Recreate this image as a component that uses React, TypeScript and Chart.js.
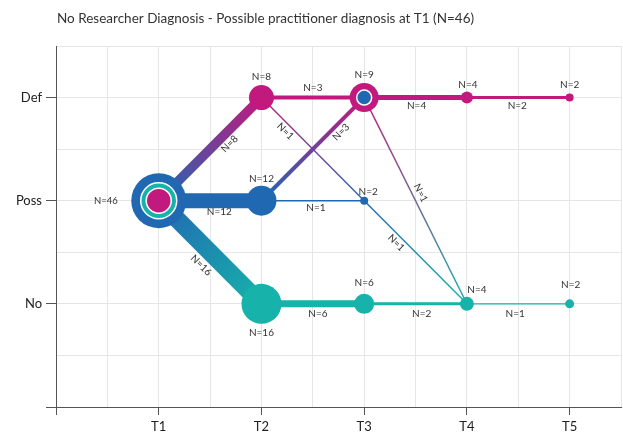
import React, { useEffect, useRef } from 'react';
import { Chart, registerables } from 'chart.js';

Chart.register(...registerables);

const TITLE = 'No Researcher Diagnosis - Possible practitioner diagnosis at T1 (N=46)';
const timeLabels = ['T1', 'T2', 'T3', 'T4', 'T5'];
const stateLabels = ['No', 'Poss', 'Def']; // y = 1, 2, 3

// Nodes: time (1..5), state (1=No, 2=Poss, 3=Def), count
const nodeTime = [1, 2, 2, 2, 3, 3, 3, 4, 4, 5, 5];
const nodeState = [2, 3, 2, 1, 3, 2, 1, 3, 1, 3, 1];
const nodeN = [46, 8, 12, 16, 9, 2, 6, 4, 4, 2, 2];

// Edges: from (time, state) to (time + 1, state), count
const edgeFromTime = [1, 1, 1, 2, 2, 2, 2, 2, 3, 3, 3, 3, 4, 4];
const edgeFromState = [2, 2, 2, 3, 3, 2, 2, 1, 3, 3, 2, 1, 3, 1];
const edgeToState = [3, 2, 1, 3, 2, 3, 2, 1, 3, 1, 1, 1, 3, 1];
const edgeN = [8, 12, 16, 3, 1, 3, 1, 6, 4, 1, 1, 2, 2, 1];

// ---------- styles (kept apart from the data) ----------
const MAGENTA = '#c2197e';
const BLUE = '#2168b2';
const TEAL = '#17b2aa';
const stateColor: Record<number, string> = { 1: TEAL, 2: BLUE, 3: MAGENTA };
const TEXT = '#333333';
const FONT = 'Lato, "Open Sans", sans-serif';

const widthForN: Record<number, number> = { 1: 1.4, 2: 3, 3: 4, 4: 5, 6: 7, 8: 9.5, 12: 15, 16: 17.5 };

// rings per node: [stateKey, radius]
const nodeRings: [number, number][][] = [
  [[2, 27.5], [1, 18], [3, 12.5]],
  [[3, 12.5]],
  [[2, 15]],
  [[1, 20]],
  [[3, 14.5], [2, 7.5]],
  [[2, 4]],
  [[1, 10]],
  [[3, 6]],
  [[1, 7]],
  [[3, 4]],
  [[1, 4.5]],
];
// node label offsets in px: [dx, dy, align]
const nodeLabelPos: [number, number, CanvasTextAlign][] = [
  [-41, 0, 'right'],
  [0, -21, 'center'],
  [0, -22, 'center'],
  [0, 29, 'center'],
  [0, -23, 'center'],
  [4, -9, 'center'],
  [0, -21, 'center'],
  [1, -13, 'center'],
  [10, -14, 'center'],
  [0, -13, 'center'],
  [1, -19, 'center'],
];
// edge label placement: fraction along the edge and perpendicular offset (px)
const edgeLabelT = [0.62, 0.59, 0.52, 0.5, 0.28, 0.72, 0.53, 0.55, 0.51, 0.48, 0.36, 0.56, 0.49, 0.47];
const edgeLabelD = [10, 11, 15.5, -9.5, 7, 8, 7, 10, 8, -8, 7, 10, 8, 10];

function gradientColor(c0: string, c1: string, fx: number, fy: number, tx: number, ty: number) {
  return (ctx: any) => {
    const ch = ctx.chart;
    const xs = ch.scales && ch.scales.x;
    const ys = ch.scales && ch.scales.y;
    if (!xs || !ys || !ch.chartArea) return c0;
    if (c0 === c1) return c0;
    const x0 = xs.getPixelForValue(fx);
    const y0 = ys.getPixelForValue(fy);
    const x1 = xs.getPixelForValue(tx);
    const y1 = ys.getPixelForValue(ty);
    if (![x0, y0, x1, y1].every(Number.isFinite)) return c0;
    const g = ch.ctx.createLinearGradient(x0, y0, x1, y1);
    g.addColorStop(0, c0);
    g.addColorStop(1, c1);
    return g;
  };
}

const isInt = (v: number) => Math.abs(v - Math.round(v)) < 1e-6;

const labelsPlugin = {
  id: 'flowLabels',
  afterDatasetsDraw(chart: any) {
    const { ctx, scales } = chart;
    const xs = scales.x;
    const ys = scales.y;
    ctx.save();
    ctx.fillStyle = TEXT;
    ctx.font = `10px ${FONT}`;
    ctx.textBaseline = 'middle';
    edgeN.forEach((n, i) => {
      const x0 = xs.getPixelForValue(edgeFromTime[i]);
      const y0 = ys.getPixelForValue(edgeFromState[i]);
      const x1 = xs.getPixelForValue(edgeFromTime[i] + 1);
      const y1 = ys.getPixelForValue(edgeToState[i]);
      const dx = x1 - x0;
      const dy = y1 - y0;
      const len = Math.hypot(dx, dy);
      const ux = dx / len;
      const uy = dy / len;
      const t = edgeLabelT[i];
      const d = edgeLabelD[i];
      const px = x0 + dx * t + -uy * d;
      const py = y0 + dy * t + ux * d;
      let ang = Math.atan2(dy, dx);
      if (ang > Math.PI / 2) ang -= Math.PI;
      if (ang < -Math.PI / 2) ang += Math.PI;
      ctx.save();
      ctx.translate(px, py);
      ctx.rotate(ang);
      ctx.textAlign = 'center';
      ctx.fillText(`N=${n}`, 0, 0);
      ctx.restore();
    });
    nodeN.forEach((n, i) => {
      const x = xs.getPixelForValue(nodeTime[i]);
      const y = ys.getPixelForValue(nodeState[i]);
      const [dx, dy, align] = nodeLabelPos[i];
      ctx.textAlign = align;
      ctx.font = i === 0 ? `9.5px ${FONT}` : `10px ${FONT}`;
      ctx.fillText(`N=${n}`, x + dx, y + dy);
    });
    ctx.restore();
  },
  afterDraw(chart: any) {
    const { ctx, chartArea } = chart;
    ctx.save();
    ctx.fillStyle = TEXT;
    ctx.font = `13.5px ${FONT}`;
    ctx.textAlign = 'left';
    ctx.textBaseline = 'alphabetic';
    ctx.fillText(TITLE, chartArea.left + 1, 22.5);
    ctx.restore();
  },
};

export default function App() {
  const canvasRef = useRef<HTMLCanvasElement | null>(null);

  useEffect(() => {
    if (!canvasRef.current) return;
    Chart.defaults.font.family = FONT;

    const edgeDatasets = edgeN.map((n, i) => {
      const fx = edgeFromTime[i];
      const fy = edgeFromState[i];
      const tx = fx + 1;
      const ty = edgeToState[i];
      return {
        label: `edge${i}`,
        data: [
          { x: fx, y: fy },
          { x: tx, y: ty },
        ],
        showLine: true,
        pointRadius: 0,
        pointHoverRadius: 0,
        borderWidth: widthForN[n] ?? n,
        borderCapStyle: 'butt' as const,
        borderColor: gradientColor(stateColor[fy], stateColor[ty], fx, fy, tx, ty),
        backgroundColor: 'transparent',
        fill: false,
        clip: false as any,
        order: 10,
      };
    });

    const nodeDatasets = [0, 1, 2].map((layer) => {
      const idx = nodeN.map((_, i) => i).filter((i) => nodeRings[i].length > layer);
      return {
        label: `nodes${layer}`,
        data: idx.map((i) => ({ x: nodeTime[i], y: nodeState[i] })),
        pointRadius: idx.map((i) => nodeRings[i][layer][1]),
        pointHoverRadius: idx.map((i) => nodeRings[i][layer][1]),
        backgroundColor: idx.map((i) => stateColor[nodeRings[i][layer][0]]),
        pointBackgroundColor: idx.map((i) => stateColor[nodeRings[i][layer][0]]),
        pointBorderColor: layer === 0 ? 'transparent' : '#ffffff',
        pointBorderWidth: layer === 0 ? 0 : 1.5,
        showLine: false,
        clip: false as any,
        order: 3 - layer,
      };
    });

    const chart = new Chart(canvasRef.current, {
      type: 'scatter',
      data: { datasets: [...edgeDatasets, ...nodeDatasets] as any },
      options: {
        animation: false,
        responsive: false,
        maintainAspectRatio: false,
        devicePixelRatio: 1,
        events: [],
        layout: { autoPadding: false, padding: { top: 46, right: 2, bottom: 0, left: 0 } },
        plugins: {
          legend: { display: false },
          tooltip: { enabled: false },
          title: { display: false },
        },
        scales: {
          x: {
            type: 'linear',
            min: 0,
            max: 5.5,
            afterFit: (s: any) => {
              s.height = 30;
              s.paddingLeft = 0;
              s.paddingRight = 0;
            },
            ticks: {
              stepSize: 0.5,
              autoSkip: false,
              maxRotation: 0,
              padding: 4,
              color: '#222',
              font: { size: 13, family: FONT },
              callback: (v: any) => {
                const n = Number(v);
                return isInt(n) && n >= 1 && n <= 5 ? timeLabels[Math.round(n) - 1] : '';
              },
            },
            grid: {
              color: (c: any) => (c.tick && c.tick.value === 0 ? 'transparent' : '#e6e6e6'),
              tickColor: (c: any) => (c.tick && isInt(c.tick.value) && c.tick.value <= 5 ? '#555' : 'transparent'),
              tickLength: 8,
              lineWidth: 1,
            },
            border: { color: '#555', width: 1 },
          },
          y: {
            type: 'linear',
            min: 0,
            max: 3.5,
            afterFit: (s: any) => {
              s.width = 56;
              s.paddingTop = 0;
              s.paddingBottom = 0;
            },
            ticks: {
              stepSize: 0.5,
              autoSkip: false,
              padding: 4,
              color: '#222',
              font: { size: 13, family: FONT },
              callback: (v: any) => {
                const n = Number(v);
                return isInt(n) && n >= 1 && n <= 3 ? stateLabels[Math.round(n) - 1] : '';
              },
            },
            grid: {
              color: (c: any) => (c.tick && c.tick.value === 0 ? 'transparent' : '#e6e6e6'),
              tickColor: (c: any) => (c.tick && isInt(c.tick.value) ? '#555' : 'transparent'),
              tickLength: 10,
              lineWidth: 1,
            },
            border: { color: '#555', width: 1 },
          },
        },
      },
      plugins: [labelsPlugin],
    });

    return () => chart.destroy();
  }, []);

  return (
    <div style={{ position: 'absolute', left: 0, top: 0, width: 623, height: 437, background: '#fff' }}>
      <canvas ref={canvasRef} width={623} height={437} style={{ display: 'block', width: 623, height: 437 }} />
    </div>
  );
}
